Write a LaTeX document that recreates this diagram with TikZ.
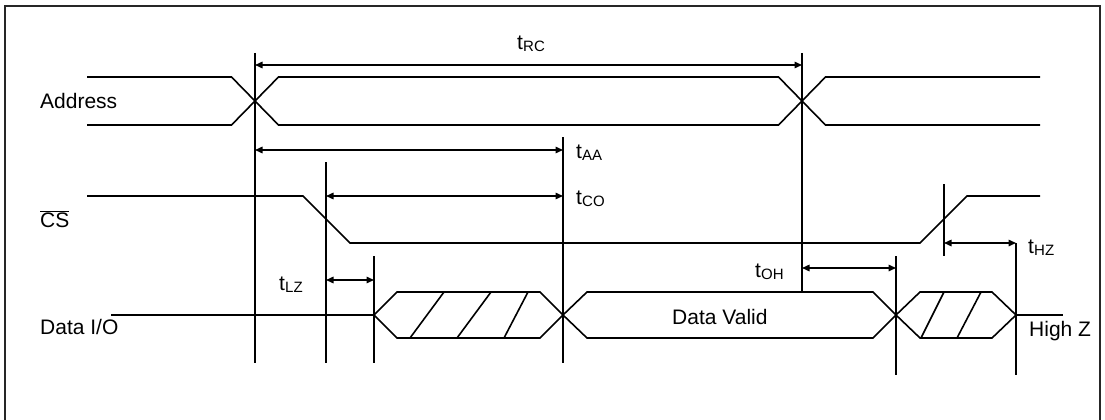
\documentclass[tikz,border=0pt]{standalone}
\usepackage{fontspec}
\setmainfont{Liberation Sans}
\usetikzlibrary{arrows.meta}
% timing parameter name: t with a smaller, slightly lowered index
\newcommand\tsub[1]{t\kern0.2pt\raisebox{-2pt}{\fontsize{15}{15}\selectfont #1}}

\begin{document}
\begin{tikzpicture}[x=1pt,y=-1pt,
  wave/.style={line width=1.6pt, line join=miter},
  marker/.style={line width=1.5pt},
  dim/.style={line width=1.5pt,
    {Triangle[length=7.5pt,width=6.5pt]}-{Triangle[length=7.5pt,width=6.5pt]}},
  lbl/.style={inner sep=0pt, anchor=base west, font=\fontsize{21}{24}\selectfont},
  frame/.style={line width=1.5pt, draw=black!85}]
\useasboundingbox (0,0) rectangle (1105,420);

% outer frame (open at the bottom)
\draw[frame] (5,420) -- (5,6) -- (1100,6) -- (1100,420);

% ---- marker positions ----
\coordinate (v1top) at (255,53);   \coordinate (v1bot) at (255,363);
\coordinate (v2top) at (802,53);   \coordinate (v2bot) at (802,292);
\coordinate (v3top) at (563,137);  \coordinate (v3bot) at (563,363);
\coordinate (v4top) at (326,162);  \coordinate (v4bot) at (326,363);
\coordinate (v5top) at (374,256);  \coordinate (v5bot) at (374,363);
\coordinate (v6top) at (896,256);  \coordinate (v6bot) at (896,375);
\coordinate (v7top) at (944,184);  \coordinate (v7bot) at (944,256);
\coordinate (v8top) at (1016,243); \coordinate (v8bot) at (1016,375);

\foreach \v in {1,...,8} \draw[marker] (v\v top) -- (v\v bot);

% ---- Address bus ----
\draw[wave] (87,77) -- (231.5,77) -- (278.5,125) -- (778.5,125) -- (825.5,77) -- (1040,77);
\draw[wave] (87,125) -- (231.5,125) -- (278.5,77) -- (778.5,77) -- (825.5,125) -- (1040,125);

% ---- chip select ----
\draw[wave] (87,196) -- (303,196) -- (350,243) -- (920,243) -- (967,196) -- (1040,196);

% ---- data bus ----
\draw[wave] (111,315) -- (374,315);
\draw[wave] (374,315) -- (397,292) -- (540,292) -- (563,315) -- (540,338) -- (397,338) -- cycle;
\draw[wave] (410,338) -- (444,292) (457,338) -- (491,292) (504,338) -- (528,292);
\draw[wave] (563,315) -- (587,292) -- (873,292) -- (896,315) -- (873,338) -- (587,338) -- cycle;
\draw[wave] (896,315) -- (920,292) -- (992,292) -- (1016,315) -- (992,338) -- (920,338) -- cycle;
\draw[wave] (921,338) -- (944,292) (957,338) -- (981,292);
\draw[wave] (1016,315) -- (1063,315);

% ---- timing dimensions ----
\coordinate (rcL) at (255,65);  \coordinate (rcR) at (802,65);
\coordinate (aaL) at (255,150); \coordinate (aaR) at (563,150);
\coordinate (coL) at (326,196); \coordinate (coR) at (563,196);
\coordinate (lzL) at (326,280); \coordinate (lzR) at (374,280);
\coordinate (ohL) at (802,268); \coordinate (ohR) at (896,268);
\coordinate (hzL) at (944,243); \coordinate (hzR) at (1016,243);
\draw[dim] (rcL) -- (rcR);
\draw[dim] (aaL) -- (aaR);
\draw[dim] (coL) -- (coR);
\draw[dim] (lzL) -- (lzR);
\draw[dim] (ohL) -- (ohR);
\draw[dim] (hzL) -- (hzR);

% ---- labels ----
\node[lbl] (tRC) at (517,49)  {\tsub{RC}};
\node[lbl] (tAA) at (576,158) {\tsub{AA}};
\node[lbl] (tCO) at (576,204) {\tsub{CO}};
\node[lbl] (tLZ) at (279,290) {\tsub{LZ}};
\node[lbl] (tOH) at (755,277) {\tsub{OH}};
\node[lbl] (tHZ) at (1028,253) {\tsub{HZ}};

\node[lbl] (addr) at (40,108) {Address};
\node[lbl] (cs)   at (40,227) {$\overline{\mbox{CS}}$};
\node[lbl] (dio)  at (40,334) {Data I/O};
\node[lbl] (dval) at (672,324) {Data Valid};
\node[lbl] (hiz)  at (1029,336) {High Z};
\end{tikzpicture}
\end{document}
